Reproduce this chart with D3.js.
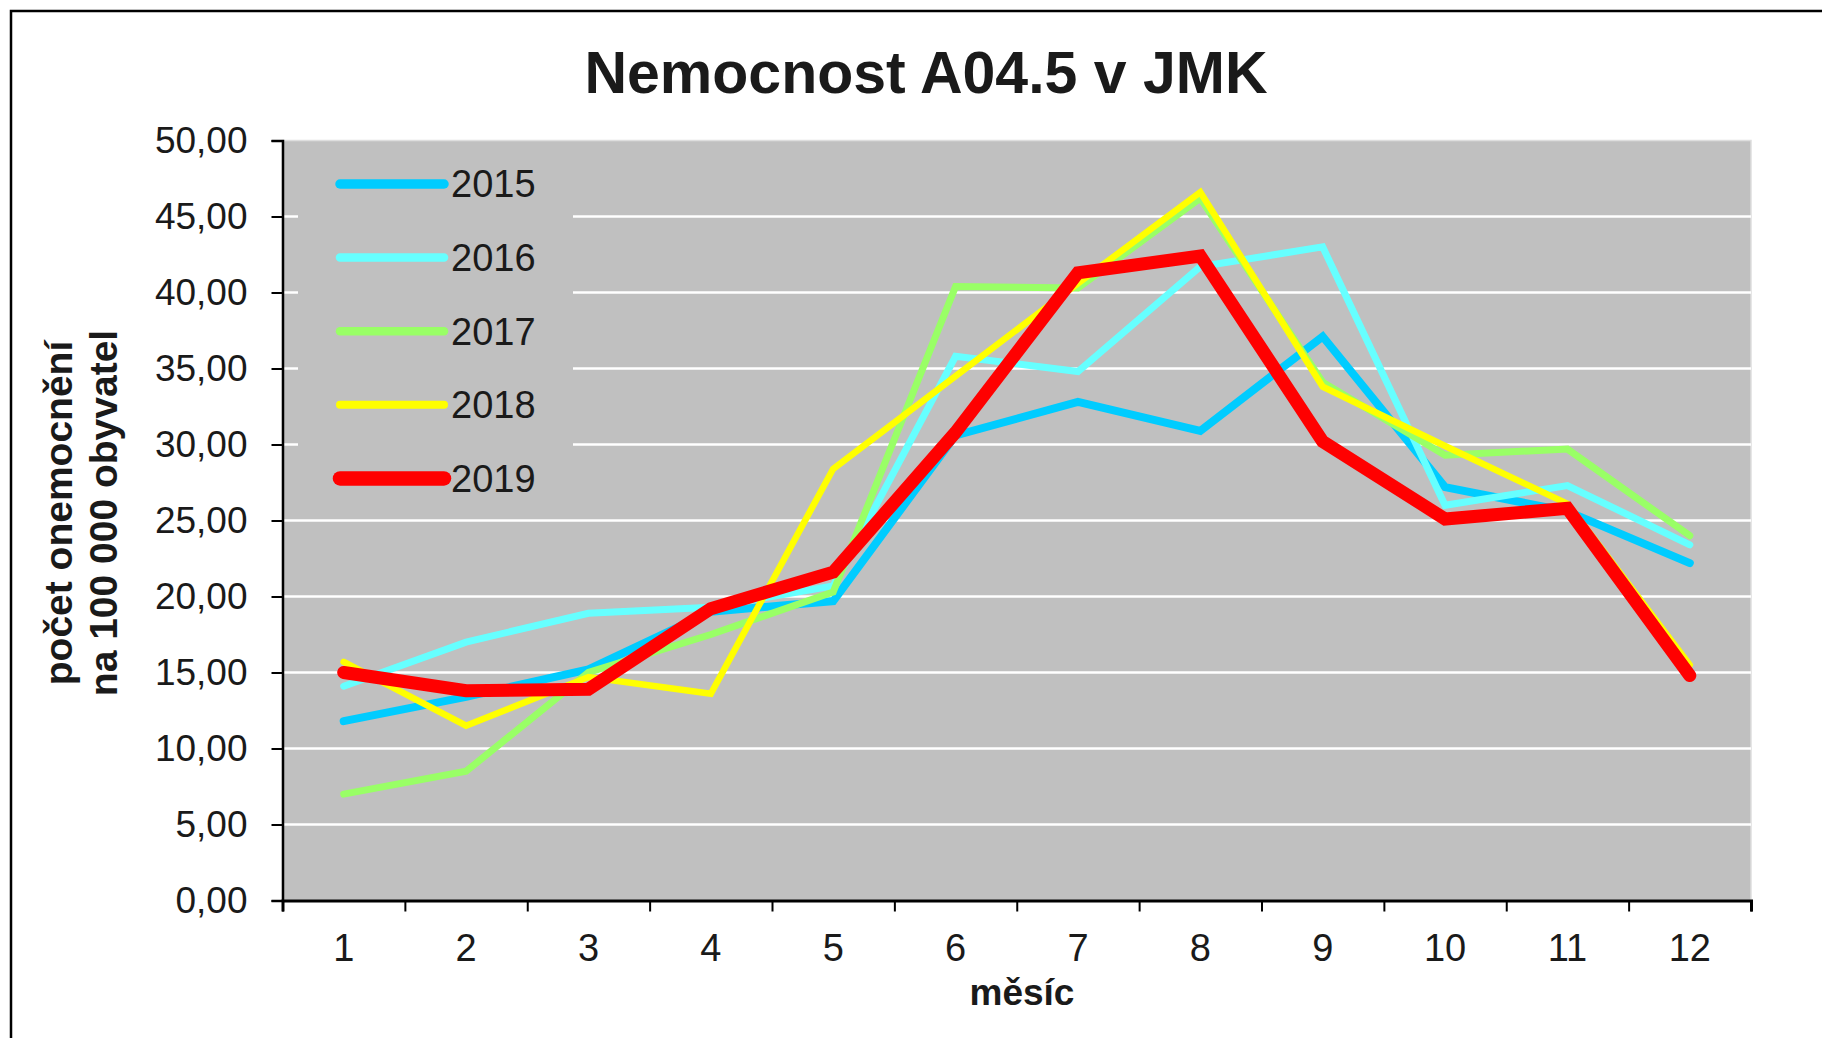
<!DOCTYPE html>
<html>
<head>
<meta charset="utf-8">
<script src="https://cdn.jsdelivr.net/npm/d3@7"></script>
<style>
    body { margin: 0; background: #ffffff; }
    svg text { font-family: "Liberation Sans", Arial, sans-serif; fill: #1a1a1a; }
</style>
</head>
<body>
<script>
var months = ["1", "2", "3", "4", "5", "6", "7", "8", "9", "10", "11", "12"];
var years = ["2015", "2016", "2017", "2018", "2019"];
var values2015 = [11.8, 13.4, 15.2, 19.0, 19.7, 30.6, 32.8, 30.9, 37.1, 27.2, 25.6, 22.2];
var values2016 = [14.1, 17.0, 18.9, 19.3, 20.7, 35.8, 34.8, 41.7, 43.0, 26.0, 27.3, 23.4];
var values2017 = [7.0, 8.5, 15.0, 17.5, 20.3, 40.4, 40.3, 46.2, 34.1, 29.3, 29.7, 24.0];
var values2018 = [15.7, 11.5, 14.7, 13.6, 28.4, 34.5, 40.6, 46.6, 33.8, 29.9, 26.1, 15.5];
var values2019 = [15.0, 13.8, 13.9, 19.2, 21.6, 30.8, 41.3, 42.4, 30.2, 25.1, 25.8, 14.8];
var yTicks = [0, 5, 10, 15, 20, 25, 30, 35, 40, 45, 50];

var titleText = "Nemocnost A04.5 v JMK";
var xTitle = "měsíc";
var yTitle = ["počet onemocnění", "na 100 000 obyvatel"];

var seriesValues = [values2015, values2016, values2017, values2018, values2019];
var seriesColors = ["#00ccff", "#66ffff", "#99ff66", "#ffff00", "#ff0000"];
var seriesWidths = [8, 7, 7, 6.5, 13];

var outerWidth = 1822;
var outerHeight = 1038;

var plotLeft = 282.5;
var plotRight = 1751;
var plotTop = 140.5;
var plotBottom = 900.5;

var svg = d3.select("body").append("svg")
    .attr("width", outerWidth)
    .attr("height", outerHeight);

// outer chart frame (right and bottom edge fall outside the picture)
svg.append("rect")
    .attr("x", 11)
    .attr("y", 11)
    .attr("width", 1900)
    .attr("height", 1100)
    .attr("fill", "#ffffff")
    .attr("stroke", "#000000")
    .attr("stroke-width", 2.5);

var x = d3.scaleBand()
    .domain(months)
    .range([plotLeft, plotRight]);

var xEdges = d3.scaleLinear()
    .domain([0, months.length])
    .range([plotLeft, plotRight]);

var y = d3.scaleLinear()
    .domain([0, 50])
    .range([plotBottom, plotTop]);

var commaFormat = d3.formatLocale({ decimal: ",", thousands: " ", grouping: [3], currency: ["", ""] }).format(".2f");

// plot background
svg.append("rect")
    .attr("x", plotLeft)
    .attr("y", plotTop)
    .attr("width", plotRight - plotLeft)
    .attr("height", plotBottom - plotTop)
    .attr("fill", "#c0c0c0")
    .attr("stroke", "#dedede")
    .attr("stroke-width", 1.5);

// gridlines
svg.append("g")
    .selectAll("line")
    .data(yTicks.filter(function(d){ return d > 0 && d < 50; }))
    .enter()
    .append("line")
    .attr("x1", plotLeft)
    .attr("x2", plotRight)
    .attr("y1", function(d){ return y(d); })
    .attr("y2", function(d){ return y(d); })
    .attr("stroke", "#ffffff")
    .attr("stroke-width", 2.5);

// legend box hides the gridlines behind it
var legendX = 340;
var legendY = 184;
var legendStep = 73.6;
var legendLineLength = 104;

svg.append("rect")
    .attr("x", 298)
    .attr("y", 148)
    .attr("width", 275)
    .attr("height", 360)
    .attr("fill", "#c0c0c0");

// series lines
var line = d3.line()
    .x(function(d, i){ return x(months[i]) + x.bandwidth() / 2; })
    .y(function(d){ return y(d); });

svg.append("g")
    .selectAll("path")
    .data(seriesValues)
    .enter()
    .append("path")
    .attr("d", function(d){ return line(d); })
    .attr("fill", "none")
    .attr("stroke", function(d, i){ return seriesColors[i]; })
    .attr("stroke-width", function(d, i){ return seriesWidths[i]; })
    .attr("stroke-linejoin", "miter")
    .attr("stroke-linecap", "round");

// legend
var legend = svg.append("g")
    .selectAll("g")
    .data(years)
    .enter()
    .append("g")
    .attr("transform", function(d, i){ return "translate(" + legendX + "," + (legendY + i * legendStep) + ")"; });

legend.append("line")
    .attr("x1", 0)
    .attr("x2", legendLineLength)
    .attr("y1", 0)
    .attr("y2", 0)
    .attr("stroke", function(d, i){ return seriesColors[i]; })
    .attr("stroke-width", function(d, i){ return seriesWidths[i] + 1.5; })
    .attr("stroke-linecap", "round");

legend.append("text")
    .attr("x", legendLineLength + 7)
    .attr("y", 0)
    .attr("dy", "0.35em")
    .style("font-size", "38px")
    .text(function(d){ return d; });

// y axis
var yAxis = svg.append("g")
    .attr("transform", "translate(" + plotLeft + ",0)")
    .call(d3.axisLeft(y).tickValues(yTicks).tickSize(11).tickPadding(24).tickFormat(commaFormat));

yAxis.select(".domain").attr("stroke", "#000000").attr("stroke-width", 2.5);
yAxis.selectAll(".tick line").attr("stroke", "#000000").attr("stroke-width", 2);
yAxis.selectAll(".tick text")
    .style("font-size", "37px")
    .attr("fill", "#1a1a1a");

// x axis: ticks at month boundaries, labels at month centres
var xAxisTicks = svg.append("g")
    .attr("transform", "translate(0," + plotBottom + ")")
    .call(d3.axisBottom(xEdges).ticks(months.length).tickSize(11).tickFormat(""));

xAxisTicks.select(".domain").attr("stroke", "#000000").attr("stroke-width", 3);
xAxisTicks.selectAll(".tick line").attr("stroke", "#000000").attr("stroke-width", 2);

var xAxisLabels = svg.append("g")
    .attr("transform", "translate(0," + plotBottom + ")")
    .call(d3.axisBottom(x).tickSize(0).tickPadding(34));

xAxisLabels.select(".domain").remove();
xAxisLabels.selectAll(".tick text")
    .style("font-size", "38px")
    .attr("fill", "#1a1a1a");

// titles
svg.append("text")
    .attr("x", 926)
    .attr("y", 93)
    .attr("text-anchor", "middle")
    .style("font-size", "59px")
    .style("font-weight", "bold")
    .attr("fill", "#000000")
    .text(titleText);

svg.append("text")
    .attr("x", 1022)
    .attr("y", 1005)
    .attr("text-anchor", "middle")
    .style("font-size", "37px")
    .style("font-weight", "bold")
    .attr("fill", "#000000")
    .text(xTitle);

svg.append("g")
    .selectAll("text")
    .data(yTitle)
    .enter()
    .append("text")
    .attr("transform", function(d, i){ return "translate(" + (72 + i * 45) + ",513) rotate(-90)"; })
    .attr("text-anchor", "middle")
    .style("font-size", "39px")
    .style("font-weight", "bold")
    .attr("fill", "#000000")
    .text(function(d){ return d; });
</script>
</body>
</html>
